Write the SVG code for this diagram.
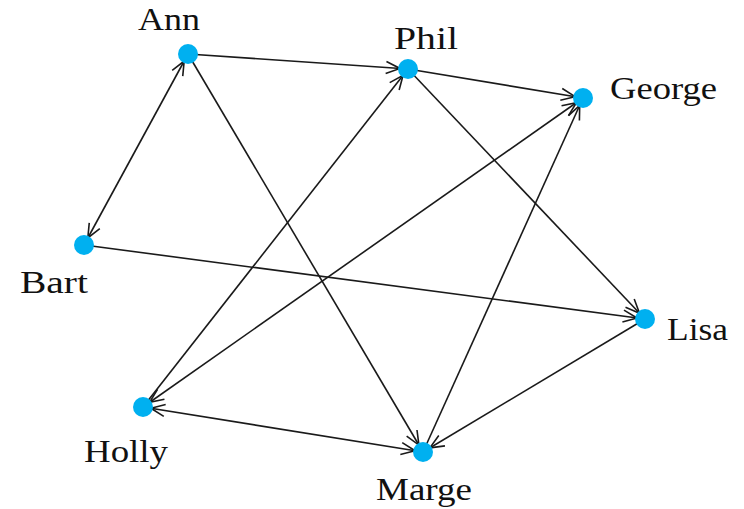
<svg xmlns="http://www.w3.org/2000/svg" width="744" height="509" viewBox="0 0 744 509">
  <style>
    .edge { stroke: #1a1a1a; stroke-width: 1.6; fill: none; }
    .node circle { fill: #00b0f0; }
    .node text { font-family: 'Liberation Serif', 'DejaVu Serif', serif; font-size: 32px; fill: #111; }
  </style>
  <defs>
    <marker id="arrow" markerUnits="userSpaceOnUse" orient="auto-start-reverse" refX="8" refY="0" markerWidth="30" markerHeight="30" overflow="visible">
      <path d="M -14 -6 L 0 0 L -14 6" fill="none" stroke="#1a1a1a" stroke-width="1.6"/>
    </marker>
  </defs>
  <rect width="744" height="509" fill="#ffffff"/>

  <g id="connectors">
    <line class="edge" x1="188" y1="54" x2="408" y2="69" marker-end="url(#arrow)"/>
    <line class="edge" x1="188" y1="54" x2="84" y2="245" marker-start="url(#arrow)" marker-end="url(#arrow)"/>
    <line class="edge" x1="188" y1="54" x2="423" y2="452" marker-end="url(#arrow)"/>
    <line class="edge" x1="408" y1="69" x2="583" y2="98" marker-end="url(#arrow)"/>
    <line class="edge" x1="408" y1="69" x2="645" y2="319" marker-end="url(#arrow)"/>
    <line class="edge" x1="143" y1="407" x2="408" y2="69" marker-end="url(#arrow)"/>
    <line class="edge" x1="143" y1="407" x2="583" y2="98" marker-start="url(#arrow)" marker-end="url(#arrow)"/>
    <line class="edge" x1="423" y1="452" x2="583" y2="98" marker-end="url(#arrow)"/>
    <line class="edge" x1="84" y1="245" x2="645" y2="319" marker-end="url(#arrow)"/>
    <line class="edge" x1="645" y1="319" x2="423" y2="452" marker-end="url(#arrow)"/>
    <line class="edge" x1="143" y1="407" x2="423" y2="452" marker-start="url(#arrow)" marker-end="url(#arrow)"/>
  </g>

  <g id="ann" class="node">
    <circle cx="188" cy="54" r="10"/>
    <text x="138" y="30" textLength="62" lengthAdjust="spacingAndGlyphs">Ann</text>
  </g>
  <g id="phil" class="node">
    <circle cx="408" cy="69" r="10"/>
    <text x="394" y="49" textLength="64" lengthAdjust="spacingAndGlyphs">Phil</text>
  </g>
  <g id="george" class="node">
    <circle cx="583" cy="98" r="10"/>
    <text x="610" y="99" textLength="107" lengthAdjust="spacingAndGlyphs">George</text>
  </g>
  <g id="bart" class="node">
    <circle cx="84" cy="245" r="10"/>
    <text x="20" y="293" textLength="68" lengthAdjust="spacingAndGlyphs">Bart</text>
  </g>
  <g id="lisa" class="node">
    <circle cx="645" cy="319" r="10"/>
    <text x="667" y="340" textLength="61" lengthAdjust="spacingAndGlyphs">Lisa</text>
  </g>
  <g id="holly" class="node">
    <circle cx="143" cy="407" r="10"/>
    <text x="84" y="462" textLength="84" lengthAdjust="spacingAndGlyphs">Holly</text>
  </g>
  <g id="marge" class="node">
    <circle cx="423" cy="452" r="10"/>
    <text x="376" y="500" textLength="96" lengthAdjust="spacingAndGlyphs">Marge</text>
  </g>
</svg>
